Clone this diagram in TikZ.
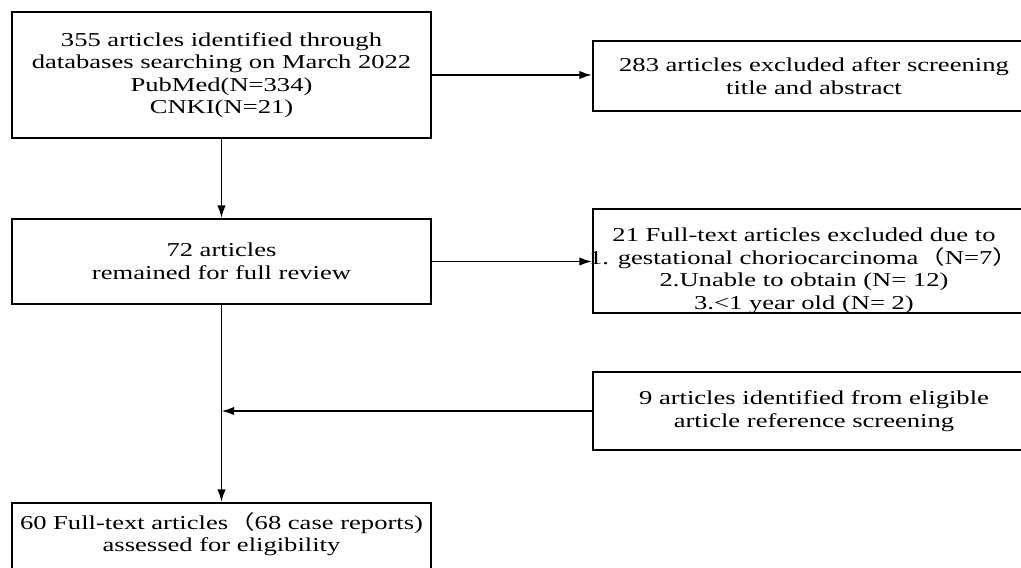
\documentclass[tikz,border=0pt]{standalone}
\usepackage{fontspec}
\setmainfont{Liberation Serif}[FakeStretch=1.35]
\newfontfamily\cjk{Noto Sans CJK SC}[FakeStretch=1.35]
\usetikzlibrary{arrows.meta}
\begin{document}
\begin{tikzpicture}[x=0.025cm, y=-0.025cm,
    txt/.style={inner sep=0pt, align=center, font=\fontsize{14}{16}\selectfont},
    box/.style={txt, draw, line width=1.3pt},
    leftbox/.style={box, minimum width=10.475cm},
    rightbox/.style={box, minimum width=11.05cm},
    arr/.style={-{Latex[length=9pt,width=6pt]}, line width=1.3pt}]
    \useasboundingbox (0,0) rectangle (1021,567);
    \node (search) [leftbox, minimum height=3.15cm] at (221.5,75) {355 articles identified through\\databases searching on March 2022\\PubMed(N=334)\\CNKI(N=21)};
    \node (review) [leftbox, minimum height=2.125cm] at (221.5,261.5) {72 articles\\remained for full review};
    \node (final) [leftbox, minimum height=2.5cm, anchor=north,
        label={[txt, anchor=north, yshift=-0.25cm]north:{60 Full-text articles{\cjk （}68 case reports)\\assessed for eligibility}}] at (221.5,502) {};
    \node (excl1) [rightbox, minimum height=1.75cm] at (814,76) {283 articles excluded after screening\\title and abstract};
    \node (excl2) [rightbox, minimum height=2.6cm,
        label={[txt, xshift=-0.25cm, yshift=-0.25cm]center:{21 Full-text articles excluded due to\\1. gestational choriocarcinoma{\cjk （}N=7{\cjk ）}\\2.Unable to obtain (N= 12)\\3.<1 year old (N= 2)}}] at (814,261) {};
    \node (extra) [rightbox, minimum height=1.95cm] at (814,411) {9 articles identified from eligible\\article reference screening};
    % connectors
    \draw[arr] (search) -- (review);
    \draw[arr] (search) -- (search -| excl1.west);
    \draw[arr] (review) -- (review -| excl2.west);
    \draw[arr] (review) -- (final);
    \draw[arr] (extra) -- (extra -| review.south);
\end{tikzpicture}
\end{document}
